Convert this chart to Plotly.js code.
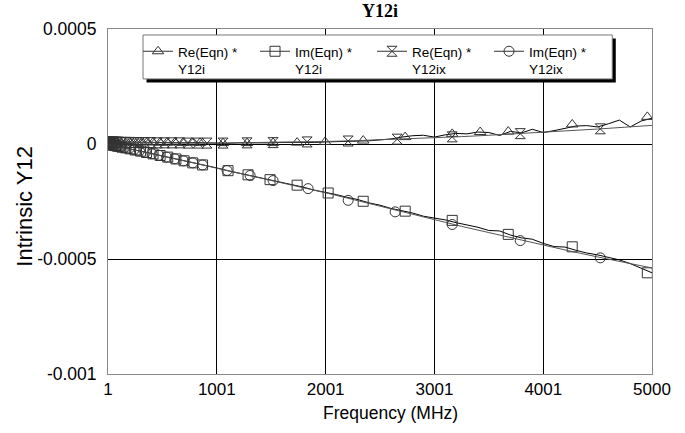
<!DOCTYPE html>
<html>
<head>
<meta charset="utf-8">
<script src="https://cdn.plot.ly/plotly-3.0.1.min.js"></script>
<style>
  html, body { margin: 0; padding: 0; background: #fff; }
  #chart { width: 685px; height: 433px; }
</style>
</head>
<body>
<div id="chart"></div>
<script>
// ---- Data (values in Siemens) ----
const freqMeas = [1,100,200,300,400,500,600,700,800,900,1000,1100,1200,1300,1400,1500,1600,1700,1800,1900,2000,
  2100,2200,2300,2400,2500,2600,2700,2800,2900,3000,3100,3200,3300,3400,3500,3600,3700,3800,3900,4000,
  4100,4200,4300,4400,4500,4600,4700,4800,4900,5000];
const reMeas = [10e-6,9e-6,8e-6,7e-6,8e-6,6e-6,7e-6,5e-6,6e-6,4e-6,5e-6,3e-6,5e-6,4e-6,6e-6,5e-6,7e-6,6e-6,8e-6,7e-6,9e-6,
  10e-6,12e-6,15e-6,14e-6,18e-6,22e-6,30e-6,36e-6,38e-6,30e-6,40e-6,46e-6,44e-6,52e-6,50e-6,37e-6,55e-6,48e-6,64e-6,50e-6,
  58e-6,68e-6,78e-6,80e-6,74e-6,88e-6,104e-6,74e-6,100e-6,112e-6];
const imMeas = [-2e-6,-11e-6,-21e-6,-31e-6,-41e-6,-52e-6,-62e-6,-72e-6,-84e-6,-94e-6,-104e-6,-116e-6,-126e-6,-135e-6,-148e-6,-156e-6,-168e-6,-178e-6,-188e-6,-201e-6,-210e-6,
  -220e-6,-232e-6,-242e-6,-256e-6,-266e-6,-280e-6,-290e-6,-300e-6,-314e-6,-322e-6,-330e-6,-342e-6,-352e-6,-362e-6,-376e-6,-378e-6,-396e-6,-408e-6,-414e-6,-432e-6,
  -446e-6,-448e-6,-462e-6,-474e-6,-482e-6,-494e-6,-504e-6,-520e-6,-540e-6,-560e-6];

const freqModel = [1,250,500,750,1000,1250,1500,1750,2000,2250,2500,2750,3000,3250,3500,3750,4000,4250,4500,4750,5000];
const reModel = [8e-6,6e-6,5e-6,4e-6,4e-6,5e-6,6e-6,8e-6,11e-6,14e-6,18e-6,22e-6,27e-6,32e-6,38e-6,44e-6,51e-6,58e-6,65e-6,73e-6,81e-6];
const imModel = [-1e-6,-26e-6,-52e-6,-78e-6,-105e-6,-131e-6,-157e-6,-184e-6,-212e-6,-241e-6,-271e-6,-300e-6,-330e-6,-358e-6,-385e-6,-413e-6,-441e-6,-466e-6,-491e-6,-515e-6,-539e-6];

// marker positions along each curve
const reMeasMkF = [1,8,19,33,47,65,83,111,139,175,222,268,314,360,415,479,543,617,690,773,847,1058,1279,1518,1739,1996,2346,2732,3164,3421,3679,4267,4957];
const reMeasMkV = [10e-6,11e-6,10e-6,12e-6,10e-6,11e-6,9e-6,9e-6,9e-6,8e-6,8e-6,8e-6,7e-6,8e-6,7e-6,6e-6,6e-6,7e-6,5e-6,6e-6,5e-6,4e-6,4e-6,5e-6,6e-6,9e-6,15e-6,30e-6,44e-6,52e-6,54e-6,85e-6,118e-6];
const imMeasMkF = [1,7,15,28,40,55,70,85,100,130,165,205,250,300,355,415,480,550,625,700,780,870,1104,1288,1490,1739,2024,2346,2732,3164,3679,4267,4957];
const imMeasMkV = [-2e-6,-2e-6,-2e-6,-3e-6,-4e-6,-6e-6,-7e-6,-9e-6,-10e-6,-14e-6,-17e-6,-21e-6,-26e-6,-31e-6,-37e-6,-43e-6,-50e-6,-57e-6,-65e-6,-73e-6,-82e-6,-91e-6,-116e-6,-134e-6,-155e-6,-179e-6,-213e-6,-249e-6,-292e-6,-332e-6,-393e-6,-447e-6,-560e-6];
const reModelMkF = [1,5,10,22,35,50,65,80,95,125,160,200,245,290,340,395,455,520,590,660,740,830,911,1058,1279,1518,1831,2208,2658,3164,3789,4525];
const reModelMkV = [8e-6,9e-6,8e-6,9e-6,8e-6,9e-6,8e-6,8e-6,8e-6,7e-6,7e-6,7e-6,6e-6,6e-6,6e-6,6e-6,5e-6,5e-6,5e-6,5e-6,4e-6,4e-6,4e-6,4e-6,5e-6,6e-6,9e-6,13e-6,21e-6,31e-6,45e-6,66e-6];
const imModelMkF = [1,5,12,22,35,48,62,76,90,120,155,195,240,290,345,405,470,540,615,695,780,870,1095,1307,1518,1840,2208,2640,3164,3789,4525];
const imModelMkV = [-1e-6,-1e-6,-1e-6,-2e-6,-4e-6,-5e-6,-6e-6,-8e-6,-9e-6,-13e-6,-16e-6,-20e-6,-25e-6,-30e-6,-36e-6,-42e-6,-49e-6,-57e-6,-64e-6,-73e-6,-82e-6,-91e-6,-115e-6,-137e-6,-159e-6,-194e-6,-245e-6,-295e-6,-350e-6,-420e-6,-495e-6];

const seriesNames = ['Re(Eqn) *<br>Y12i', 'Im(Eqn) *<br>Y12i', 'Re(Eqn) *<br>Y12ix', 'Im(Eqn) *<br>Y12ix'];
const seriesSymbols = ['triangle-up-open', 'square-open', 'hourglass-open', 'circle-open'];
const xTickVals = [1, 1001, 2001, 3001, 4001, 5000];
const xTickText = ['1', '1001', '2001', '3001', '4001', '5000'];
const yTickVals = [0.0005, 0, -0.0005, -0.001];
const yTickText = ['0.0005', '0', '-0.0005', '-0.001'];
const xTitle = 'Frequency (MHz)';
const yTitle = 'Intrinsic Y12';
const chartTitle = 'Y12i';

// ---- Styles / layout geometry (pixels of the 685x433 canvas) ----
const FONT = '"Liberation Sans", Arial, sans-serif';
const measColor = '#000000';
const modelColor = '#555555';
const mkColor = '#333333';
const PL = 108, PR = 651.7, PT = 29, PB = 374.5;           // plot area
const PW = PR - PL, PH = PB - PT;
const px2x = p => (p - PL) / PW;
const px2y = p => (PB - p) / PH;
const legendBox = {l: 143, r: 612, t: 35, b: 79};           // legend frame
const shadowOff = 3.5;

const lineSets = [
  {x: freqMeas, y: reMeas, c: measColor, mx: reMeasMkF, my: reMeasMkV},
  {x: freqMeas, y: imMeas, c: measColor, mx: imMeasMkF, my: imMeasMkV},
  {x: freqModel, y: reModel, c: modelColor, mx: reModelMkF, my: reModelMkV},
  {x: freqModel, y: imModel, c: modelColor, mx: imModelMkF, my: imModelMkV}
];

const traces = [];
lineSets.forEach((s, i) => {
  traces.push({x: s.x, y: s.y, mode: 'lines', type: 'scatter', showlegend: false,
    line: {color: s.c, width: 1}, hoverinfo: 'skip'});
  traces.push({x: s.mx, y: s.my, mode: 'markers', type: 'scatter', showlegend: false,
    marker: {symbol: seriesSymbols[i], size: 10, color: mkColor, line: {color: mkColor, width: 1}},
    hoverinfo: 'skip'});
});
// legend entries
seriesNames.forEach((n, i) => {
  traces.push({x: [null], y: [null], mode: 'lines+markers', type: 'scatter', name: n,
    line: {color: '#333', width: 1},
    marker: {symbol: seriesSymbols[i], size: 10, color: mkColor, line: {color: mkColor, width: 1}}});
});

const layout = {
  width: 685, height: 433,
  margin: {l: PL, r: 685 - PR, t: PT, b: 433 - PB, pad: 0},
  paper_bgcolor: '#fff', plot_bgcolor: '#fff',
  font: {family: FONT, size: 16, color: '#000'},
  title: {text: '<b>' + chartTitle + '</b>', font: {family: '"Liberation Serif", "Times New Roman", serif', size: 18, color: '#000'},
    x: 0.5, xref: 'paper', y: 0.975, yanchor: 'middle'},
  showlegend: true,
  legend: {orientation: 'h', x: px2x(138), xanchor: 'left', y: px2y(36), yanchor: 'top',
    bgcolor: 'rgba(0,0,0,0)', borderwidth: 0,
    font: {family: FONT, size: 13.5, color: '#000'},
    entrywidth: 72, entrywidthmode: 'pixels', valign: 'top', itemclick: false},
  xaxis: {range: [1, 5000], tickvals: xTickVals, ticktext: xTickText,
    showgrid: true, gridcolor: '#000', gridwidth: 1, zeroline: false,
    showline: true, linecolor: '#888', linewidth: 1, mirror: true,
    ticks: '', ticklabelstandoff: 0, tickfont: {size: 17}},
  yaxis: {range: [-0.001, 0.0005], tickvals: yTickVals, ticktext: yTickText,
    showgrid: true, gridcolor: '#000', gridwidth: 1, zeroline: false,
    showline: true, linecolor: '#888', linewidth: 1, mirror: true,
    ticks: '', ticklabelstandoff: 7, tickfont: {size: 17.5}},
  shapes: [
    {type: 'rect', xref: 'paper', yref: 'paper', layer: 'above',
      x0: px2x(legendBox.l + shadowOff), x1: px2x(legendBox.r + shadowOff),
      y0: px2y(legendBox.b + shadowOff), y1: px2y(legendBox.t + shadowOff),
      fillcolor: '#000', line: {width: 0}},
    {type: 'rect', xref: 'paper', yref: 'paper', layer: 'above',
      x0: px2x(legendBox.l), x1: px2x(legendBox.r),
      y0: px2y(legendBox.b), y1: px2y(legendBox.t),
      fillcolor: '#fff', line: {color: '#777', width: 1}}
  ],
  annotations: [
    {text: xTitle, xref: 'paper', yref: 'paper', x: px2x(390), y: px2y(414),
      xanchor: 'center', yanchor: 'middle', showarrow: false, font: {family: FONT, size: 17.5, color: '#000'}},
    {text: yTitle, xref: 'paper', yref: 'paper', x: px2x(25), y: px2y(206), textangle: -90,
      xanchor: 'center', yanchor: 'middle', showarrow: false, font: {family: FONT, size: 22, color: '#000'}}
  ]
};

Plotly.newPlot('chart', traces, layout, {displayModeBar: false, staticPlot: true});
</script>
</body>
</html>
